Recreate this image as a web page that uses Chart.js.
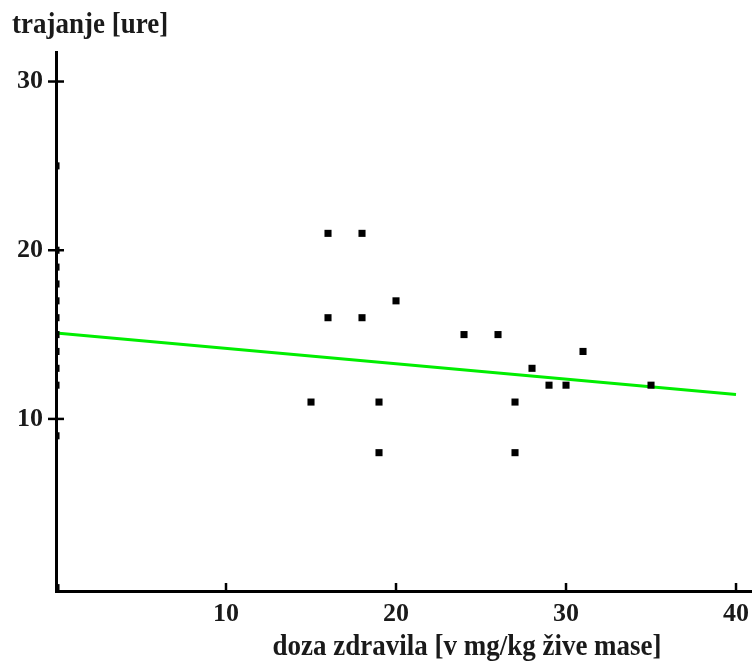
<!DOCTYPE html>
<html>
<head>
<meta charset="utf-8">
<script src="https://cdn.jsdelivr.net/npm/chart.js@4/dist/chart.umd.min.js"></script>
<style>
  body { margin: 0; background: #fff; }
</style>
</head>
<body>
<canvas id="myChart" width="752" height="661"></canvas>
<script>
// doza zdravila (x) in trajanje (y)
const dozaX = [0, 0, 0, 0, 0, 0, 0, 0, 0, 0, 0, 0,
  15, 16, 16, 18, 18, 19, 19, 20, 24, 26, 27, 27, 28, 29, 30, 31, 35];
const trajanjeY = [25, 20, 19, 18, 17, 16, 15, 14, 13, 12, 9, 0,
  11, 21, 16, 21, 16, 11, 8, 17, 15, 15, 11, 8, 13, 12, 12, 14, 12];
// regresijska premica (odčitano s slike)
const premicaX = [0, 40];
const premicaY = [15.1, 11.45];
const xTicks = [10, 20, 30, 40];
const yTicks = [10, 20, 30];

const textColor = '#1a1a1a';
const serif = '"Liberation Serif", "Times New Roman", serif';

// tick marks that cross / sit on the axes, plus the axis titles
const axisExtras = {
  id: 'axisExtras',
  afterDraw(chart) {
    const c = chart.ctx;
    const xs = chart.scales.x, ys = chart.scales.y;
    const a = chart.chartArea;
    c.save();
    c.strokeStyle = '#000';
    c.lineWidth = 2.5;
    yTicks.forEach(v => {
      const py = ys.getPixelForValue(v);
      c.beginPath();
      c.moveTo(a.left - 8, py);
      c.lineTo(a.left + 8, py);
      c.stroke();
    });
    xTicks.forEach(v => {
      const px = xs.getPixelForValue(v);
      c.beginPath();
      c.moveTo(px, a.bottom);
      c.lineTo(px, a.bottom - 8);
      c.stroke();
    });
    c.fillStyle = textColor;
    c.font = 'bold 27px ' + serif;
    c.textBaseline = 'alphabetic';
    c.textAlign = 'left';
    c.save();
    c.translate(12, 33);
    c.scale(1, 1.1);
    c.fillText('trajanje [ure]', 0, 0);
    c.restore();
    c.textAlign = 'center';
    c.save();
    c.translate(467, 655);
    c.scale(1, 1.1);
    c.fillText('doza zdravila [v mg/kg žive mase]', 0, 0);
    c.restore();
    c.restore();
  }
};

const ctx = document.getElementById('myChart');
const points = dozaX.map((x, i) => ({ x: x, y: trajanjeY[i] }));
const line = premicaX.map((x, i) => ({ x: x, y: premicaY[i] }));

new Chart(ctx, {
  type: 'scatter',
  data: {
    datasets: [
      {
        label: 'premica',
        data: line,
        showLine: true,
        borderColor: '#00ee00',
        borderWidth: 3,
        pointRadius: 0,
        order: 2
      },
      {
        label: 'meritve',
        data: points,
        pointStyle: 'rect',
        pointRadius: 5,
        pointBorderWidth: 0,
        backgroundColor: '#000',
        borderColor: '#000',
        clip: { left: 0, bottom: 0, top: false, right: false },
        order: 1
      }
    ]
  },
  options: {
    responsive: false,
    animation: false,
    layout: {
      autoPadding: false,
      padding: { top: 52, left: 0, right: 0, bottom: 0 }
    },
    plugins: {
      legend: { display: false },
      tooltip: { enabled: false }
    },
    scales: {
      x: {
        type: 'linear',
        min: 0,
        max: 40.94,
        afterFit(scale) {
          scale.height = 70;
          scale.paddingLeft = 0;
          scale.paddingRight = 0;
        },
        afterBuildTicks(scale) { scale.ticks = xTicks.map(v => ({ value: v })); },
        grid: { drawOnChartArea: false, drawTicks: false },
        border: { color: '#000', width: 3 },
        ticks: {
          padding: 8,
          color: textColor,
          font: { family: serif, size: 26, weight: 'bold' }
        }
      },
      y: {
        type: 'linear',
        min: -0.2,
        max: 31.75,
        afterFit(scale) {
          scale.width = 56;
          scale.paddingTop = 0;
          scale.paddingBottom = 0;
        },
        afterBuildTicks(scale) { scale.ticks = yTicks.map(v => ({ value: v })); },
        grid: { drawOnChartArea: false, drawTicks: false },
        border: { color: '#000', width: 3 },
        ticks: {
          padding: 13,
          color: textColor,
          font: { family: serif, size: 26, weight: 'bold' }
        }
      }
    }
  },
  plugins: [axisExtras]
});
</script>
</body>
</html>
